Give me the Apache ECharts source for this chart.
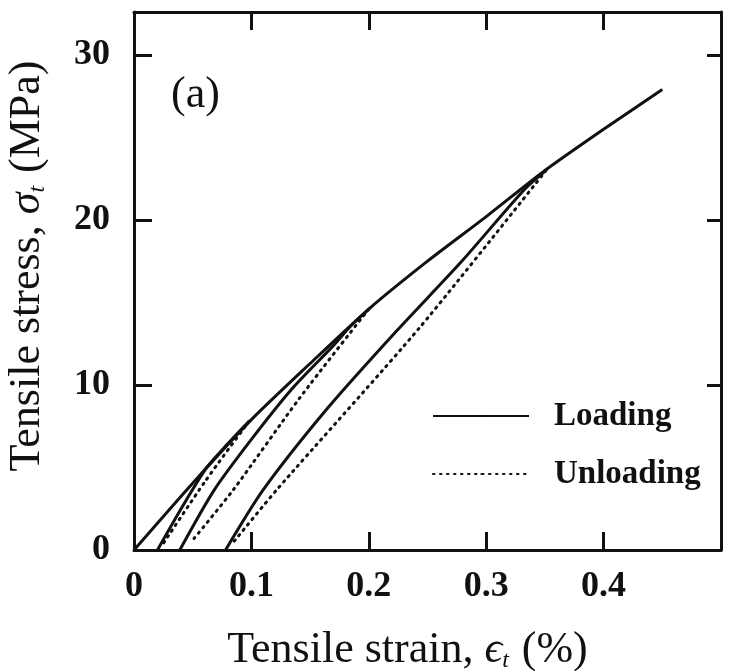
<!DOCTYPE html>
<html>
<head>
<meta charset="utf-8">
<script src="https://cdn.jsdelivr.net/npm/echarts@6/dist/echarts.min.js"></script>
<style>
  html, body { margin: 0; padding: 0; background: #fff; }
  #chart { width: 731px; height: 671px; }
</style>
</head>
<body>
<div id="chart"></div>
<script>
// tick labels
const xTicks = [0, 0.1, 0.2, 0.3, 0.4]
const yTicks = [0, 10, 20, 30]

// loading envelope (strain %, stress MPa)
const envelopeStrain = [0, 0.05, 0.1, 0.15, 0.2, 0.25, 0.3, 0.35, 0.4, 0.45]
const envelopeStress = [0, 4.05, 7.9, 11.3, 14.6, 17.5, 20.2, 23.0, 25.5, 27.9]

// reloading branches (solid)
const reload1Strain = [0.02, 0.041, 0.062, 0.08, 0.098]
const reload1Stress = [0, 2.6, 5.0, 6.45, 7.8]
const reload2Strain = [0.039, 0.068, 0.1, 0.135, 0.17, 0.185, 0.2]
const reload2Stress = [0, 3.6, 6.7, 9.8, 12.4, 13.6, 14.6]
const reload3Strain = [0.078, 0.11, 0.165, 0.224, 0.278, 0.332, 0.351]
const reload3Stress = [0, 3.64, 8.6, 13.3, 17.4, 21.8, 23.0]

// unloading branches (dotted)
const unload1Strain = [0.098, 0.06, 0.025]
const unload1Stress = [7.8, 4.1, 0.4]
const unload2Strain = [0.2, 0.141, 0.0845, 0.05]
const unload2Stress = [14.6, 9.2, 3.64, 0.6]
const unload3Strain = [0.351, 0.2436, 0.1215, 0.085]
const unload3Stress = [23.0, 13.5, 3.64, 0.5]

const zip = (xs, ys) => xs.map((x, i) => [x, ys[i]])

const ink = '#111'
const serif = '"Liberation Serif", "DejaVu Serif", serif'

function solid (xs, ys) {
  return {
    name: 'Loading',
    type: 'line',
    symbol: 'none',
    smooth: 0.25,
    data: zip(xs, ys),
    lineStyle: { color: ink, width: 3 },
    itemStyle: { color: ink }
  }
}

function dotted (xs, ys) {
  return {
    name: 'Unloading',
    type: 'line',
    symbol: 'none',
    smooth: 0.25,
    data: zip(xs, ys),
    lineStyle: { color: ink, width: 3, type: [1.5, 5.5], cap: 'round' },
    itemStyle: { color: ink }
  }
}

const tickLabel = {
  fontFamily: serif,
  fontWeight: 'bold',
  fontSize: 36,
  color: ink
}

const frameLine = { onZero: false, lineStyle: { color: ink, width: 3 } }

const chart = echarts.init(document.getElementById('chart'))
chart.setOption({
  animation: false,
  backgroundColor: '#fff',
  title: {
    text: '(a)',
    left: 166,
    top: 68,
    textStyle: { fontFamily: serif, fontWeight: 'normal', fontSize: 44, color: ink }
  },
  legend: {
    data: ['Loading', 'Unloading'],
    orient: 'vertical',
    left: 427,
    top: 394,
    itemWidth: 96,
    itemHeight: 2,
    itemGap: 24,
    textStyle: {
      fontFamily: serif,
      fontWeight: 'bold',
      fontSize: 33,
      lineHeight: 34,
      color: ink,
      padding: [0, 0, 0, 20]
    }
  },
  grid: { left: 134, right: 10, top: 12, bottom: 121, outerBoundsMode: 'none' },
  xAxis: [{
    type: 'value',
    min: 0,
    max: 0.5,
    interval: 0.1,
    position: 'bottom',
    name: 'Tensile strain, {e|ϵ}{sub|t} (%)',
    nameLocation: 'middle',
    nameGap: 77,
    nameTextStyle: {
      fontFamily: serif,
      fontSize: 44,
      color: ink,
      padding: [0, 40, 0, 0],
      rich: {
        e: { fontFamily: serif, fontSize: 44, fontStyle: 'italic', color: ink },
        sub: { fontFamily: serif, fontSize: 24, fontStyle: 'italic', color: ink, verticalAlign: 'bottom', padding: [22, 2, 0, 0] }
      }
    },
    axisLine: frameLine,
    axisTick: { inside: true, length: 18, lineStyle: { color: ink, width: 3 } },
    axisLabel: {
      ...tickLabel,
      margin: 19,
      showMaxLabel: false,
      formatter: v => xTicks.includes(+v.toFixed(1)) ? (v === 0 ? '0' : v.toFixed(1)) : ''
    },
    splitLine: { show: false }
  }, {
    type: 'value',
    min: 0,
    max: 0.5,
    interval: 0.1,
    position: 'top',
    axisLine: frameLine,
    axisTick: { inside: true, length: 18, lineStyle: { color: ink, width: 3 } },
    axisLabel: { show: false },
    splitLine: { show: false }
  }],
  yAxis: [{
    type: 'value',
    min: 0,
    max: 32.6,
    interval: 10,
    position: 'left',
    name: 'Tensile stress, {s|σ}{sub|t} (MPa)',
    nameLocation: 'middle',
    nameGap: 84,
    nameTextStyle: {
      fontFamily: serif,
      fontSize: 44,
      color: ink,
      padding: [0, 0, 0, 30],
      rich: {
        s: { fontFamily: serif, fontSize: 44, fontStyle: 'italic', color: ink },
        sub: { fontFamily: serif, fontSize: 24, fontStyle: 'italic', color: ink, verticalAlign: 'bottom', padding: [22, 2, 0, 0] }
      }
    },
    axisLine: frameLine,
    axisTick: { inside: true, length: 18, lineStyle: { color: ink, width: 3 } },
    axisLabel: {
      ...tickLabel,
      margin: 24,
      showMaxLabel: false,
      formatter: v => yTicks.includes(v) ? String(v) : ''
    },
    splitLine: { show: false }
  }, {
    type: 'value',
    min: 0,
    max: 32.6,
    interval: 10,
    position: 'right',
    axisLine: frameLine,
    axisTick: { inside: true, length: 14, lineStyle: { color: ink, width: 3 } },
    axisLabel: { show: false },
    splitLine: { show: false }
  }],
  series: [
    solid(envelopeStrain, envelopeStress),
    solid(reload1Strain, reload1Stress),
    solid(reload2Strain, reload2Stress),
    solid(reload3Strain, reload3Stress),
    dotted(unload1Strain, unload1Stress),
    dotted(unload2Strain, unload2Stress),
    dotted(unload3Strain, unload3Stress)
  ]
})
</script>
</body>
</html>
